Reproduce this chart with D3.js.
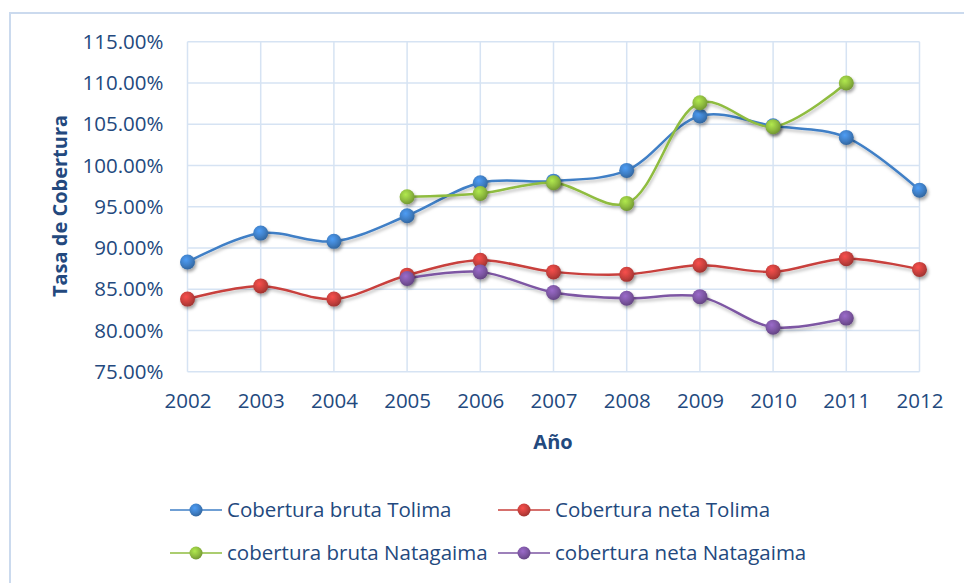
<!DOCTYPE html>
<html>
<head>
<meta charset="utf-8">
<script src="https://cdn.jsdelivr.net/npm/d3@7"></script>
<style>
  html, body { margin: 0; padding: 0; background: #fff; }
  svg { display: block; }
</style>
</head>
<body>
<svg id="chart" width="964" height="583"></svg>
<script>
const years = [2002, 2003, 2004, 2005, 2006, 2007, 2008, 2009, 2010, 2011, 2012];
const brutaTolima     = [88.3, 91.8, 90.8, 93.9, 97.9, 98.1, 99.4, 106.0, 104.8, 103.4, 97.0];
const netaTolima      = [83.8, 85.4, 83.8, 86.7, 88.5, 87.1, 86.8, 87.9, 87.1, 88.7, 87.4];
const brutaNatagaima  = [null, null, null, 96.2, 96.6, 97.9, 95.4, 107.6, 104.7, 110.0, null];
const netaNatagaima   = [null, null, null, 86.3, 87.1, 84.6, 83.9, 84.1, 80.4, 81.5, null];
const yTicks = [75, 80, 85, 90, 95, 100, 105, 110, 115];
const seriesNames = ["Cobertura bruta Tolima", "Cobertura neta Tolima", "cobertura bruta Natagaima", "cobertura neta Natagaima"];
const seriesColors = ["#3f7fc6", "#c8403d", "#8fbc3f", "#7d56a3"];
const seriesData = [brutaTolima, netaTolima, brutaNatagaima, netaNatagaima];

const svg = d3.select("#chart");
const font = "'Open Sans', 'Noto Sans', sans-serif";
const textColor = "#23497e";
const gridColor = "#d6e3f3";

// outer border
svg.append("rect").attr("x", 10).attr("y", 13).attr("width", 980).attr("height", 600)
  .attr("fill", "none").attr("stroke", "#cbdaee").attr("stroke-width", 2);

const x = d3.scalePoint().domain(years).range([187.5, 919.5]);
const y = d3.scaleLinear().domain([75, 115]).range([371.7, 41.7]);

// defs: gradients and shadow
const defs = svg.append("defs");
const filt = defs.append("filter").attr("id", "shadow").attr("x", "-50%").attr("y", "-50%").attr("width", "200%").attr("height", "200%");
filt.append("feDropShadow").attr("dx", 1.5).attr("dy", 2.5).attr("stdDeviation", 1.8).attr("flood-color", "#000").attr("flood-opacity", 0.35);
const lfilt = defs.append("filter").attr("id", "lshadow").attr("x", "-5%").attr("y", "-20%").attr("width", "110%").attr("height", "140%");
lfilt.append("feDropShadow").attr("dx", 1).attr("dy", 2.5).attr("stdDeviation", 1.5).attr("flood-color", "#000").attr("flood-opacity", 0.25);

seriesColors.forEach((c, i) => {
  const g = defs.append("radialGradient").attr("id", "grad" + i)
    .attr("cx", "40%").attr("cy", "35%").attr("r", "65%");
  g.append("stop").attr("offset", "0%").attr("stop-color", d3.color(c).brighter(0.6));
  g.append("stop").attr("offset", "60%").attr("stop-color", c);
  g.append("stop").attr("offset", "100%").attr("stop-color", d3.color(c).darker(0.6));
});

// gridlines
const grid = svg.append("g");
grid.selectAll(".hg").data(yTicks).enter().append("line")
  .attr("x1", x(2002)).attr("x2", x(2012))
  .attr("y1", d => y(d)).attr("y2", d => y(d))
  .attr("stroke", gridColor).attr("stroke-width", 1.5);
grid.selectAll(".vg").data(years).enter().append("line")
  .attr("x1", d => x(d)).attr("x2", d => x(d))
  .attr("y1", y(115)).attr("y2", y(75))
  .attr("stroke", gridColor).attr("stroke-width", 1.5);

// axes
const yAxis = d3.axisLeft(y).tickValues(yTicks).tickSize(0).tickPadding(24)
  .tickFormat(d => d.toFixed(2) + "%");
const ga = svg.append("g").attr("transform", `translate(${x(2002)},0)`).call(yAxis);
ga.select(".domain").remove();
ga.selectAll("text").attr("font-family", font).attr("font-size", 20.5).attr("fill", textColor);

const xAxis = d3.axisBottom(x).tickSize(0).tickPadding(22).tickFormat(d3.format("d"));
const gx = svg.append("g").attr("transform", `translate(0,${y(75)})`).call(xAxis);
gx.select(".domain").remove();
gx.selectAll("text").attr("font-family", font).attr("font-size", 20.5).attr("fill", textColor);

// axis titles
svg.append("text").attr("x", 553).attr("y", 449).attr("text-anchor", "middle")
  .attr("font-family", font).attr("font-weight", "bold").attr("font-size", 20).attr("fill", textColor).text("Año");
svg.append("text").attr("transform", "translate(67,206) rotate(-90)").attr("text-anchor", "middle")
  .attr("font-family", font).attr("font-weight", "bold").attr("font-size", 20).attr("fill", textColor).text("Tasa de Cobertura");

// lines
const line = d3.line().defined(d => d.v !== null).x(d => x(d.year)).y(d => y(d.v)).curve(d3.curveCatmullRom.alpha(0.5));
const order = [0, 2, 1, 3];
order.forEach(i => {
  const pts = years.map((yr, k) => ({ year: yr, v: seriesData[i][k] })).filter(d => d.v !== null);
  svg.append("path").datum(pts).attr("d", line)
    .attr("fill", "none").attr("stroke", seriesColors[i]).attr("stroke-width", 2.5)
    .attr("filter", "url(#lshadow)");
});
order.forEach(i => {
  const pts = years.map((yr, k) => ({ year: yr, v: seriesData[i][k] })).filter(d => d.v !== null);
  svg.append("g").selectAll("circle").data(pts).enter().append("circle")
    .attr("cx", d => x(d.year)).attr("cy", d => y(d.v)).attr("r", 7.5)
    .attr("fill", `url(#grad${i})`).attr("filter", "url(#shadow)");
});

// legend
const legPos = [[170, 510], [498, 510], [170, 553], [498, 553]];
seriesNames.forEach((name, i) => {
  const [lx, ly] = legPos[i];
  const g = svg.append("g");
  g.append("line").attr("x1", lx).attr("x2", lx + 52).attr("y1", ly).attr("y2", ly)
    .attr("stroke", seriesColors[i]).attr("stroke-width", 1.5);
  g.append("circle").attr("cx", lx + 26).attr("cy", ly).attr("r", 6.5)
    .attr("fill", `url(#grad${i})`);
  g.append("text").attr("x", lx + 57).attr("y", ly).attr("dy", "0.35em")
    .attr("font-family", font).attr("font-size", 20.5).attr("fill", textColor).text(name);
});
</script>
</body>
</html>
